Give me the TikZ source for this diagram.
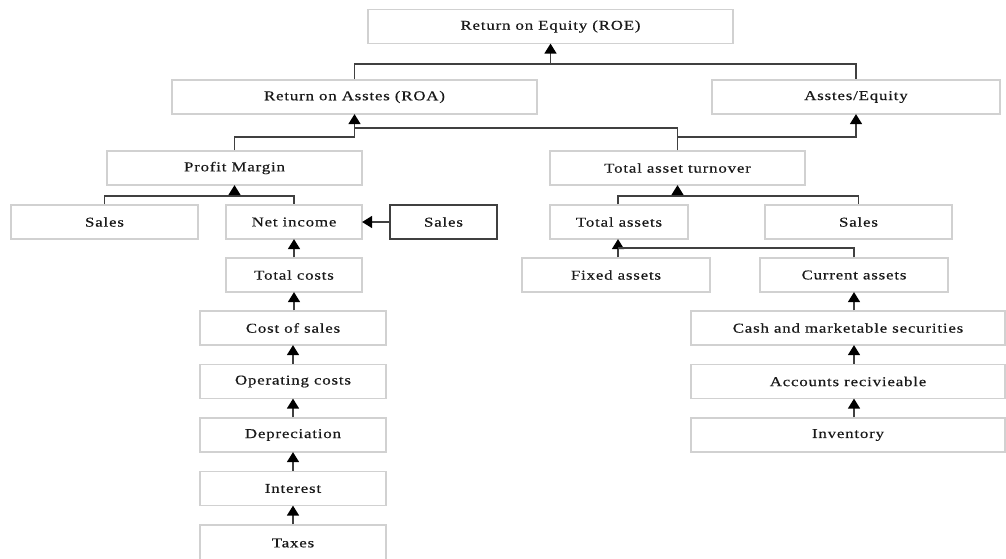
\documentclass[tikz,border=0pt]{standalone}
\usepackage{fontspec}
\setmainfont{Liberation Serif}
\usetikzlibrary{arrows.meta}
\begin{document}
\begin{tikzpicture}[x=1pt,y=-1pt,
  box/.style={draw=black!18,line width=1.2pt,fill=white,inner sep=0pt,minimum height=34pt,
    font=\fontsize{13.5}{16}\selectfont\addfontfeatures{FakeStretch=1.25,LetterSpace=6,FakeBold=0.4},text=black!90},
  darkbox/.style={box,draw=black!75},
  conn/.style={draw=black!75,line width=1.5pt},
  arr/.style={conn,-{Triangle[width=12pt,length=10pt,fill=black,color=black]},shorten >=-0.5pt}]
\useasboundingbox (0,0) rectangle (1006,558);
% nodes
\node[box,minimum width=365pt] (roe) at (550.5,26.5) {Return on Equity (ROE)};
\node[box,minimum width=365pt] (roa) at (354.5,97) {Return on Asstes (ROA)};
\node[box,minimum width=288pt] (ae) at (856,97) {Asstes/Equity};
\node[box,minimum width=255pt] (pm) at (234.5,168) {Profit Margin};
\node[box,minimum width=255pt] (tat) at (677.5,168) {Total asset turnover};
\node[box,minimum width=187pt] (sales1) at (104.5,222) {Sales};
\node[box,minimum width=136pt] (ni) at (294,222) {Net income};
\node[darkbox,minimum width=107pt] (sales2) at (443.5,222) {Sales};
\node[box,minimum width=138pt] (ta) at (619,222) {Total assets};
\node[box,minimum width=187pt] (sales3) at (858.5,222) {Sales};
\node[box,minimum width=136pt] (tc) at (294,275) {Total costs};
\node[box,minimum width=188pt] (fa) at (616,275) {Fixed assets};
\node[box,minimum width=188pt] (ca) at (854,275) {Current assets};
\node[box,minimum width=186pt] (cos) at (293,328) {Cost of sales};
\node[box,minimum width=186pt] (oc) at (293,381.5) {Operating costs};
\node[box,minimum width=186pt] (dep) at (293,435) {Depreciation};
\node[box,minimum width=186pt] (int) at (293,488.5) {Interest};
\node[box,minimum width=186pt,minimum height=36pt] (tax) at (293,543) {Taxes};
\node[box,minimum width=314pt] (cms) at (848,328) {Cash and marketable securities};
\node[box,minimum width=314pt] (ar) at (848,381.5) {Accounts recivieable};
\node[box,minimum width=314pt] (inv) at (848,435) {Inventory};
% junctions
\coordinate (j1) at (550.5,64);
\coordinate (j2) at (354.5,137);
\coordinate (j3) at (677.5,128);
\coordinate (j4) at (677.5,137);
\coordinate (j5) at (234.5,196);
\coordinate (j6) at (677.5,196);
\coordinate (j7) at (618,248);
% connectors
\draw[conn] (roa.north) |- (j1) -| (ae.north);
\draw[arr] (j1) -- (roe.south);
\draw[conn] (pm.north) |- (j2);
\draw[arr] (j2) -- (roa.south);
\draw[conn] (tat.north) -- (j3) -- (j3 -| roa.south);
\draw[arr] (j4) -| (ae.south);
\draw[conn] (sales1.north) |- (j5) -| (ni.north);
\draw[arr] (j5) -- (pm.south);
\draw[conn] (ta.north -| j7) |- (j6) -| (sales3.north);
\draw[arr] (j6) -- (tat.south);
\draw[arr] (sales2.west) -- (ni.east);
\draw[arr] (tc.north) -- (ni.south);
\draw[arr] (fa.north -| j7) -- (ta.south -| j7);
\draw[conn] (ca.north) |- (j7);
\draw[arr] (cos.north -| tc) -- (tc.south);
\draw[arr] (oc.north) -- (cos.south);
\draw[arr] (dep.north) -- (oc.south);
\draw[arr] (int.north) -- (dep.south);
\draw[arr] (tax.north) -- (int.south);
\draw[arr] (cms.north -| ca) -- (ca.south);
\draw[arr] (ar.north -| ca) -- (cms.south -| ca);
\draw[arr] (inv.north -| ca) -- (ar.south -| ca);
\end{tikzpicture}
\end{document}
